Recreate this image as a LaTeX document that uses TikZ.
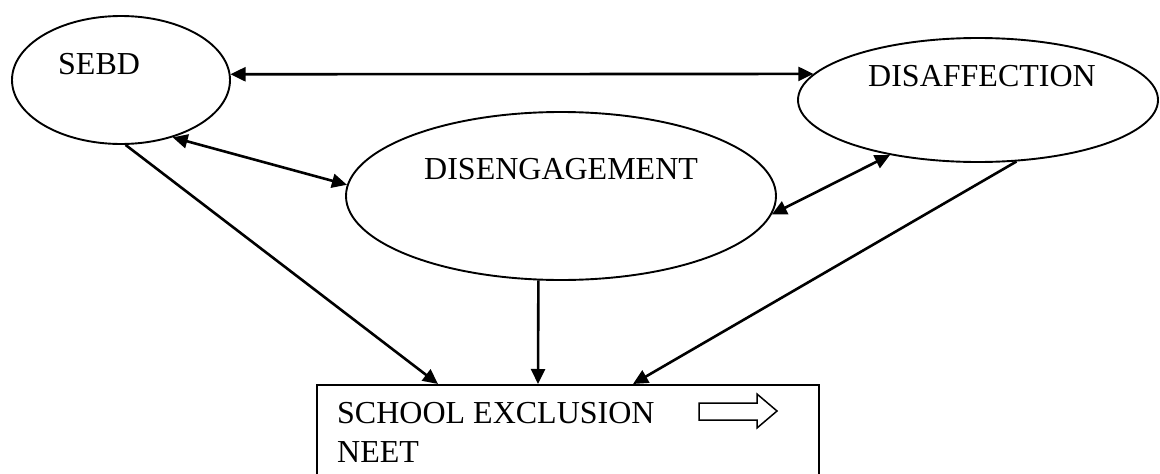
\documentclass[tikz,border=0pt]{standalone}
\usepackage{fontspec}
\setmainfont{Liberation Serif}
\usetikzlibrary{shapes.geometric,arrows.meta,calc}
\begin{document}
\begin{tikzpicture}[x=1pt,y=-1pt,
  oval/.style={draw,ellipse,line width=1.9pt,inner sep=0pt},
  lbl/.style={anchor=base west,inner sep=0pt,font=\fontsize{32}{38}\selectfont},
  conn/.style={line width=2.6pt,-{Triangle[length=15pt,width=14pt]}},
  biconn/.style={line width=2.6pt,{Triangle[length=15pt,width=14pt]}-{Triangle[length=15pt,width=14pt]}}]
\useasboundingbox (0,0) rectangle (1160,474);
\clip (0,0) rectangle (1160,474);
\fill[white] (0,0) rectangle (1160,474);
\node[oval,minimum width=218pt,minimum height=128pt] (sebd) at (121,80) {};
\node[oval,minimum width=430pt,minimum height=168pt] (diseng) at (561,196) {};
\node[oval,minimum width=360pt,minimum height=124pt] (disaff) at (978,100) {};
\node[draw,line width=1.9pt,anchor=north west,minimum width=502pt,minimum height=110pt,inner sep=0pt] (box) at (316,384) {};
\node[lbl] (tsebd) at (58,74) {SEBD};
\node[lbl] (tdiseng) at (424,179) {DISENGAGEMENT};
\node[lbl] (tdisaff) at (868,86) {DISAFFECTION};
\node[lbl] (tschool) at (337,423) {SCHOOL EXCLUSION};
\node[lbl] (tneet) at (337,462) {NEET};
\draw[line width=1.5pt] (699,403) -- (757,403) -- (757,394) -- (777,411) -- (757,428) -- (757,420) -- (699,420) -- cycle;
\draw[biconn] (sebd.3.7) -- (disaff.171);
\draw[biconn] (sebd.-48) -- (diseng.177);
\draw[biconn] (diseng.-5.2) -- (disaff.-148.8);
\draw[conn] (sebd.-86.5) -- ($(box.north west)+(122,0)$);
\draw[conn] (diseng.-105.3) -- ($(box.north west)+(222,0)$);
\draw[conn] (disaff.-58) -- ($(box.north west)+(317,0)$);
\end{tikzpicture}
\end{document}
